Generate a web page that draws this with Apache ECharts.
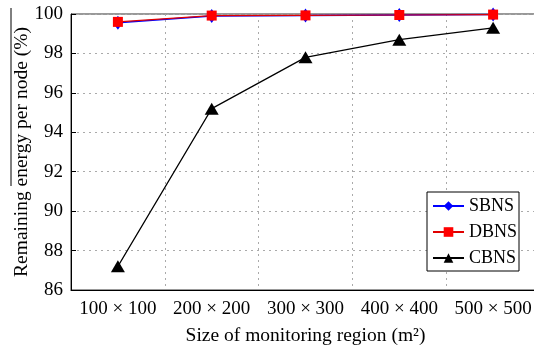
<!DOCTYPE html>
<html>
<head>
<meta charset="utf-8">
<script src="https://cdn.jsdelivr.net/npm/echarts@6/dist/echarts.min.js"></script>
<style>
  html, body { margin: 0; padding: 0; background: #fff; }
  #main { width: 534px; height: 346px; }
</style>
</head>
<body>
<div id="main"></div>
<script>
// data
var sizes = ['100 × 100', '200 × 200', '300 × 300', '400 × 400', '500 × 500'];
var sbns = [99.55, 99.9, 99.92, 99.95, 99.97];
var dbns = [99.6, 99.92, 99.93, 99.95, 99.97];
var cbns = [87.2, 95.2, 97.8, 98.7, 99.3];

var font = 'Liberation Serif';

var myChart = echarts.init(document.getElementById('main'));
myChart.setOption({
  animation: false,
  backgroundColor: '#fff',
  textStyle: { fontFamily: font },
  grid: {
    left: 71, top: 14, right: -6, bottom: 56,
    outerBoundsMode: 'none',
    containLabel: false,
    show: true, borderColor: '#333', borderWidth: 1
  },
  legend: {
    orient: 'vertical',
    left: 427, top: 192,
    padding: [5, 2, 4, 5],
    itemGap: 8,
    itemWidth: 31, itemHeight: 12,
    backgroundColor: '#fff',
    borderColor: '#000', borderWidth: 1,
    textStyle: { fontFamily: font, fontSize: 18, color: '#000' },
    data: ['SBNS', 'DBNS', 'CBNS']
  },
  xAxis: {
    type: 'category',
    data: sizes,
    boundaryGap: true,
    name: 'Size of monitoring region (m²)',
    nameLocation: 'middle',
    nameGap: 36,
    nameMoveOverlap: false,
    nameTextStyle: { fontFamily: font, fontSize: 19.5, color: '#000' },
    axisLine: { lineStyle: { color: '#000', width: 1 } },
    axisTick: { inside: true, length: 5, lineStyle: { color: '#000' } },
    axisLabel: { interval: 0, hideOverlap: false, fontFamily: font, fontSize: 19, color: '#000', margin: 10 },
    splitLine: { show: true, lineStyle: { color: '#aaa', type: [2, 4] } }
  },
  yAxis: {
    type: 'value',
    min: 86, max: 100, interval: 2,
    name: 'Remaining energy per node (%)',
    nameLocation: 'middle',
    nameGap: 39,
    nameMoveOverlap: false,
    nameTextStyle: { fontFamily: font, fontSize: 19.5, color: '#000' },
    axisLine: { show: true, lineStyle: { color: '#000', width: 1 } },
    axisTick: { show: true, inside: true, length: 5, lineStyle: { color: '#000' } },
    axisLabel: { fontFamily: font, fontSize: 19, color: '#000', margin: 8 },
    splitLine: { show: true, lineStyle: { color: '#aaa', type: [2, 4] } }
  },
  series: [
    {
      name: 'SBNS', type: 'line', data: sbns,
      symbol: 'diamond', symbolSize: [10, 14],
      itemStyle: { color: '#0000ff' },
      lineStyle: { color: '#0000ff', width: 1.5 },
      z: 3
    },
    {
      name: 'DBNS', type: 'line', data: dbns,
      symbol: 'rect', symbolSize: 10,
      itemStyle: { color: '#ff0000' },
      lineStyle: { color: '#e00000', width: 1.2 },
      z: 4
    },
    {
      name: 'CBNS', type: 'line', data: cbns,
      symbol: 'triangle', symbolSize: [14, 12],
      itemStyle: { color: '#000' },
      lineStyle: { color: '#000', width: 1.2 },
      z: 5
    }
  ],
  graphic: [
    {
      // overline above "energy per node"
      type: 'line',
      shape: { x1: 11, y1: 8, x2: 11, y2: 186 },
      style: { stroke: '#000', lineWidth: 1 }
    }
  ]
});
</script>
</body>
</html>
